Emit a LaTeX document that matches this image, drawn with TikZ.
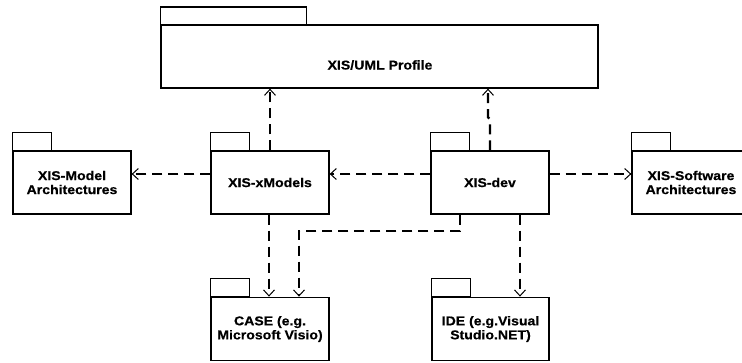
\documentclass[tikz,border=0pt]{standalone}
\usepackage{fontspec}
\setmainfont{Liberation Sans}[FakeStretch=1.1, BoldFeatures={FakeBold=0.5}]
\usetikzlibrary{arrows.meta}
\tikzset{
  pkg/.style={draw=black, line width=1.3pt, fill=white, rectangle, inner sep=0pt,
    minimum width=118pt, minimum height=63pt, align=center,
    font=\fontsize{12.8}{14}\selectfont\bfseries},
  lbl/.style={inner sep=0pt, align=center, font=\fontsize{12.8}{14}\selectfont\bfseries},
  tab/.style={draw=black, line width=1.3pt},
  dep/.style={draw=black, line width=2.3pt, dash pattern=on 10pt off 6pt,
    -{Straight Barb[length=6pt,width=11pt,line width=1pt]}},
}
\begin{document}
\begin{tikzpicture}[x=1pt,y=-1pt]
\useasboundingbox (0,0) rectangle (742,362);
% packages
\node[pkg, minimum width=437pt] (prof) at (379.5,56.5) {};
\node[lbl] (proftxt) at (380,65) {XIS/UML Profile};
\node[pkg] (mod) at (72,182.5) {XIS-Model\\Architectures};
\node[pkg] (xm) at (270,182.5) {XIS-xModels};
\node[pkg] (dev) at (490,182.5) {XIS-dev};
\node[pkg] (sw) at (691,182.5) {XIS-Software\\Architectures};
\node[pkg, minimum height=63.5pt] (case) at (270,329) {CASE (e.g.\\Microsoft Visio)};
\node[pkg, minimum width=117pt, minimum height=63.5pt] (ide) at (490.5,329) {IDE (e.g.Visual\\Studio.NET)};
% tabs
\draw[tab] (prof.north west) rectangle ++(146,-17.5);
\foreach \n in {mod,xm,dev,sw,case,ide}
  \draw[tab] (\n.north west) rectangle ++(39,-18);
% connectors
\draw[dep] (xm.north) -- (prof.south -| xm.north);
\draw[dep] (dev.north) -- ++(0,-31) -- ++(-2,-2) -- (prof.south -| 488,0);
\draw[dep] (xm.west |- 0,174) -- (mod.east |- 0,174);
\draw[dep] (dev.west |- 0,174) -- (xm.east |- 0,174);
\draw[dep] (dev.east |- 0,174) -- (sw.west |- 0,174);
\draw[dep] (xm.south -| 269,0) -- (case.north -| 269,0);
\draw[dep] (dev.south -| 460,0) -- (460,231) -- (299,231) -- (case.north -| 299,0);
\draw[dep] (dev.south -| 520,0) -- (ide.north -| 520,0);
\end{tikzpicture}
\end{document}
